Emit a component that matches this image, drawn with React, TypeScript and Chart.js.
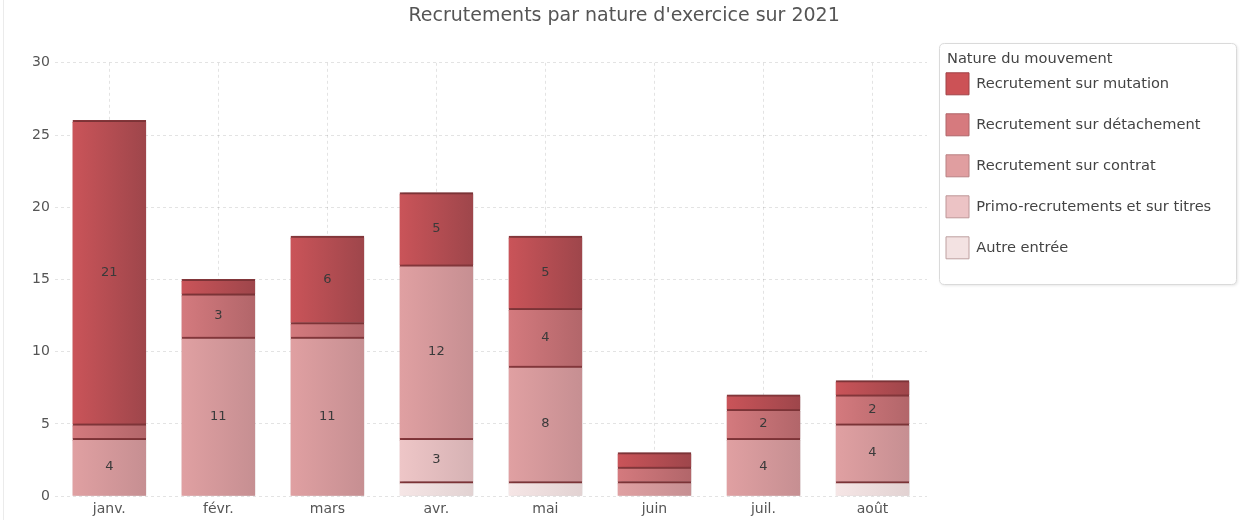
import React, { useEffect, useRef } from 'react';
import { Chart, registerables } from 'chart.js';

Chart.register(...registerables);

const months = ['janv.', 'févr.', 'mars', 'avr.', 'mai', 'juin', 'juil.', 'août'];

// stacked from bottom to top
const autreEntree = [0, 0, 0, 1, 1, 0, 0, 1];
const primoRecrutements = [0, 0, 0, 3, 0, 0, 0, 0];
const recrutementContrat = [4, 11, 11, 12, 8, 1, 4, 4];
const recrutementDetachement = [1, 3, 1, 0, 4, 1, 2, 2];
const recrutementMutation = [21, 1, 6, 5, 5, 1, 1, 1];

const seriesLabels = [
  'Autre entrée',
  'Primo-recrutements et sur titres',
  'Recrutement sur contrat',
  'Recrutement sur détachement',
  'Recrutement sur mutation',
];
const seriesValues = [autreEntree, primoRecrutements, recrutementContrat, recrutementDetachement, recrutementMutation];

const gradLeft = ['rgb(246,230,230)', 'rgb(238,198,199)', 'rgb(224,160,162)', 'rgb(212,122,126)', 'rgb(202,84,89)'];
const gradRight = ['rgb(226,210,210)', 'rgb(214,178,180)', 'rgb(198,143,146)', 'rgb(178,102,106)', 'rgb(158,70,75)'];
const legendFill = ['rgb(243,226,226)', 'rgb(236,195,197)', 'rgb(224,158,160)', 'rgb(214,122,126)', 'rgb(204,82,86)'];
const legendStroke = ['rgb(190,160,160)', 'rgb(190,150,152)', 'rgb(185,128,130)', 'rgb(176,100,104)', 'rgb(160,66,70)'];

const chartTitle = "Recrutements par nature d'exercice sur 2021";
const legendTitle = 'Nature du mouvement';
const yMax = 30;
const yStep = 5;

const FONT = '"DejaVu Sans", Verdana, sans-serif';
const BAR_PCT = 0.675;
const LEGEND_PAD = 19;
const LEGEND_BOX_W = 23;
const LEGEND_BOX_H = 22;
const LEGEND_FONT = 14.6;

function makeGradient(i: number) {
  return (ctx: any) => {
    const chart = ctx.chart;
    const x = chart.scales && chart.scales.x;
    if (!x || !chart.chartArea || ctx.dataIndex === undefined) return legendFill[i];
    const cx = x.getPixelForValue(ctx.dataIndex);
    const half = (x.width / months.length) * BAR_PCT / 2;
    if (!isFinite(cx) || !isFinite(half) || half <= 0) return legendFill[i];
    const g = chart.ctx.createLinearGradient(cx - half, 0, cx + half, 0);
    g.addColorStop(0, gradLeft[i]);
    g.addColorStop(1, gradRight[i]);
    return g;
  };
}

const decorPlugin = {
  id: 'decor',
  beforeDraw(chart: any) {
    const { ctx } = chart;
    const lg = chart.legend;
    ctx.save();
    ctx.strokeStyle = 'rgba(0,0,0,0.08)';
    ctx.lineWidth = 1;
    ctx.beginPath();
    ctx.moveTo(3.5, 0);
    ctx.lineTo(3.5, chart.height);
    ctx.stroke();
    if (lg) {
      const bx = lg.left + LEGEND_PAD;
      const x0 = bx - 6.5;
      const y0 = 43.5;
      const x1 = chart.width - 3.5;
      const y1 = 284.5;
      const r = 5;
      ctx.shadowColor = 'rgba(0,0,0,0.12)';
      ctx.shadowBlur = 3;
      ctx.shadowOffsetX = 1;
      ctx.shadowOffsetY = 1;
      ctx.beginPath();
      ctx.moveTo(x0 + r, y0);
      ctx.lineTo(x1 - r, y0);
      ctx.quadraticCurveTo(x1, y0, x1, y0 + r);
      ctx.lineTo(x1, y1 - r);
      ctx.quadraticCurveTo(x1, y1, x1 - r, y1);
      ctx.lineTo(x0 + r, y1);
      ctx.quadraticCurveTo(x0, y1, x0, y1 - r);
      ctx.lineTo(x0, y0 + r);
      ctx.quadraticCurveTo(x0, y0, x0 + r, y0);
      ctx.closePath();
      ctx.fillStyle = '#ffffff';
      ctx.fill();
      ctx.shadowColor = 'transparent';
      ctx.strokeStyle = '#dadada';
      ctx.stroke();
      ctx.fillStyle = '#444';
      ctx.font = `${LEGEND_FONT}px ${FONT}`;
      ctx.textAlign = 'left';
      ctx.textBaseline = 'middle';
      ctx.fillText(legendTitle, bx + 1, 59);
    }
    ctx.restore();
  },
  beforeDatasetsDraw(chart: any) {
    const { ctx } = chart;
    ctx.save();
    ctx.shadowColor = 'rgba(0,0,0,0.3)';
    ctx.shadowBlur = 4;
    ctx.shadowOffsetX = 2;
    ctx.shadowOffsetY = 0;
  },
  afterDatasetsDraw(chart: any) {
    const { ctx } = chart;
    ctx.restore();
    ctx.save();
    ctx.font = `13px ${FONT}`;
    ctx.fillStyle = '#3a3a3a';
    ctx.textAlign = 'center';
    ctx.textBaseline = 'middle';
    chart.data.datasets.forEach((ds: any, di: number) => {
      const meta = chart.getDatasetMeta(di);
      meta.data.forEach((el: any, i: number) => {
        const v = ds.data[i];
        if (v == null || v < 2) return;
        ctx.fillText(String(v), el.x, (el.y + el.base) / 2);
      });
    });
    ctx.restore();
  },
};

function measureMaxLabel(): number {
  const c = document.createElement('canvas');
  const cx = c.getContext('2d');
  if (!cx) return 235;
  cx.font = `${LEGEND_FONT}px ${FONT}`;
  return Math.max(...seriesLabels.map((s) => cx.measureText(s).width));
}

export default function App() {
  const ref = useRef<HTMLCanvasElement>(null);

  useEffect(() => {
    const canvas = ref.current;
    if (!canvas) return;
    const legendWidth = LEGEND_PAD + LEGEND_BOX_W + LEGEND_FONT / 2 + measureMaxLabel() + 10;
    const targetLegendLeft = 927;
    const padRight = Math.max(0, 1240 - targetLegendLeft - legendWidth);

    const chart = new Chart(canvas, {
      type: 'bar',
      data: {
        labels: months,
        datasets: seriesValues.map((vals, i) => ({
          label: seriesLabels[i],
          data: vals.map((v) => (v ? v : null)),
          backgroundColor: makeGradient(i),
          borderColor: 'rgb(140,58,62)',
          borderWidth: { top: 2, left: 0, right: 0, bottom: 0 },
          borderSkipped: false,
          inflateAmount: 0.5,
          barPercentage: BAR_PCT,
          categoryPercentage: 1,
        })),
      },
      plugins: [decorPlugin],
      options: {
        responsive: false,
        animation: false,
        devicePixelRatio: 1,
        layout: { padding: { left: 27, right: padRight, top: 0, bottom: -3 } },
        scales: {
          x: {
            stacked: true,
            z: 1,
            grid: {
              display: true,
              offset: false,
              color: 'rgba(0,0,0,0.11)',
              drawTicks: false,
            },
            border: { display: false, dash: [3, 3] },
            ticks: { font: { family: FONT, size: 14 }, color: '#555', padding: 5 },
          },
          y: {
            stacked: true,
            z: 1,
            min: 0,
            max: yMax,
            grid: { color: 'rgba(0,0,0,0.11)', drawTicks: false },
            border: { display: false, dash: [3, 3] },
            ticks: { stepSize: yStep, font: { family: FONT, size: 14 }, color: '#555', padding: 5 },
          },
        },
        plugins: {
          tooltip: { enabled: false },
          title: {
            display: true,
            text: chartTitle,
            color: '#555',
            font: { family: FONT, size: 19, weight: 'normal' },
            padding: { top: 5, bottom: 35 },
          },
          legend: {
            display: true,
            position: 'right',
            align: 'start',
            reverse: true,
            title: {
              display: true,
              text: legendTitle,
              color: 'rgba(0,0,0,0)',
              font: { family: FONT, size: 14 },
              padding: { top: 37, bottom: 0 },
              position: 'start',
            },
            labels: {
              boxWidth: LEGEND_BOX_W,
              boxHeight: LEGEND_BOX_H,
              padding: LEGEND_PAD,
              color: '#444',
              font: { family: FONT, size: LEGEND_FONT },
              generateLabels: (ch: any) =>
                ch.data.datasets.map((ds: any, i: number) => ({
                  text: ds.label,
                  fillStyle: legendFill[i],
                  strokeStyle: legendStroke[i],
                  lineWidth: 1,
                  hidden: false,
                  datasetIndex: i,
                  fontColor: '#444',
                })),
            },
          },
        },
      } as any,
    });
    return () => chart.destroy();
  }, []);

  return (
    <div style={{ position: 'absolute', left: 0, top: 0, width: 1240, height: 520, background: '#fff' }}>
      <canvas ref={ref} width={1240} height={520} style={{ display: 'block' }} />
    </div>
  );
}
